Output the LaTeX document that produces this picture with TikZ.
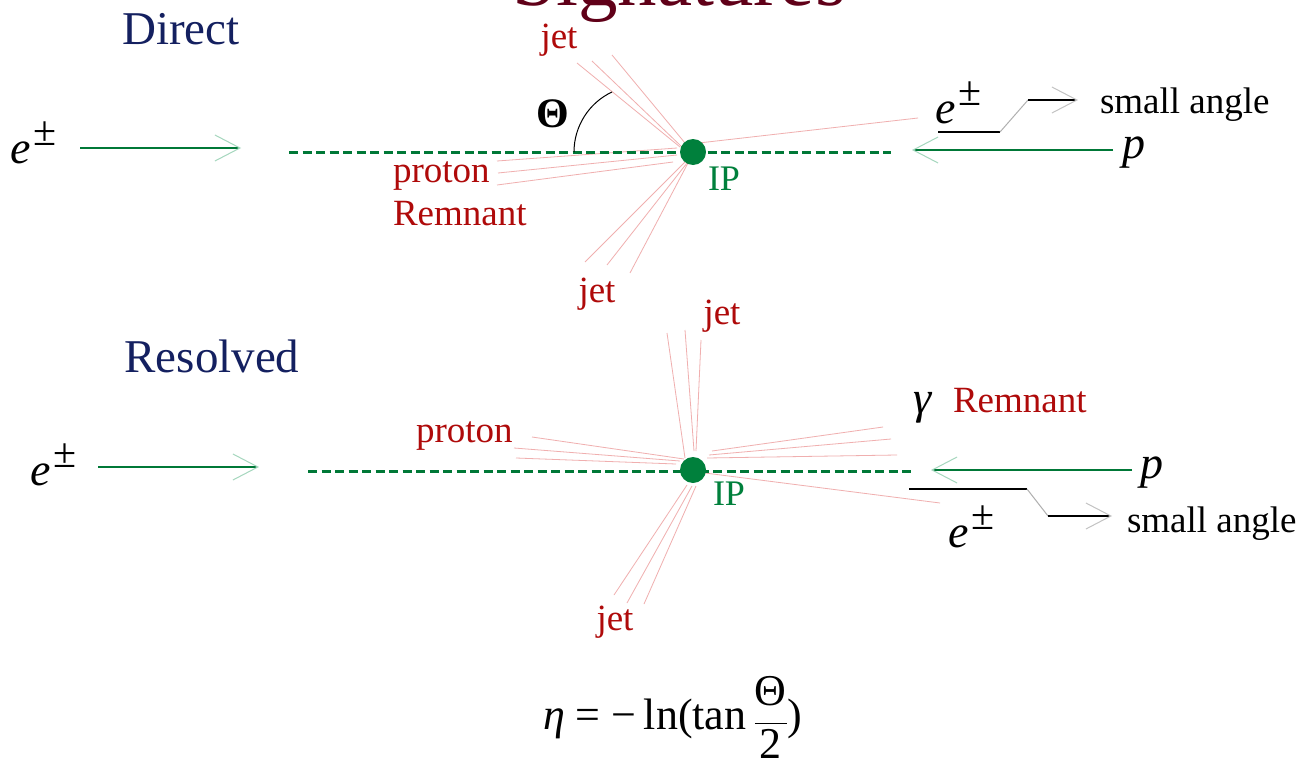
\documentclass[tikz,border=0pt]{standalone}
\usepackage{fontspec}
\setmainfont{Liberation Serif}
\usetikzlibrary{arrows.meta}
\definecolor{navy}{RGB}{20,32,96}
\definecolor{maroon}{RGB}{96,0,24}
\definecolor{lblred}{RGB}{175,10,10}
\definecolor{ipgreen}{RGB}{0,128,60}
\definecolor{beamgreen}{RGB}{0,120,55}
\definecolor{headgreen}{RGB}{165,215,190}
\definecolor{jetpink}{RGB}{240,175,175}
\definecolor{diaggray}{RGB}{175,175,175}
\definecolor{headgray}{RGB}{195,195,195}
\tikzset{
  txt/.style={inner sep=0pt, outer sep=0pt},
  panel/.style={txt, text=navy, font=\fontsize{47}{50}\selectfont},
  redlbl/.style={txt, text=lblred, font=\fontsize{37}{40}\selectfont},
  iplbl/.style={txt, text=ipgreen, font=\fontsize{36}{40}\selectfont},
  blk/.style={txt, text=black, font=\fontsize{37}{40}\selectfont},
  mathlbl/.style={txt, text=black, font=\fontsize{46}{50}\selectfont\itshape},
  beam/.style={beamgreen, line width=3pt, dash pattern=on 9pt off 4.5pt},
  inarrow/.style={beamgreen, line width=1.3pt, -{Straight Barb[length=25pt,width=26pt,color=headgreen,line width=1pt]}},
  jetline/.style={jetpink, line width=0.8pt},
  dot/.style={circle, fill=ipgreen, draw=none, minimum size=26pt, inner sep=0pt},
  sablack/.style={black, line width=1.3pt},
  sadiag/.style={diaggray, line width=1pt},
  saarrow/.style={black, line width=1.3pt, -{Straight Barb[length=25pt,width=26pt,color=headgray,line width=1pt]}},
}
\newcommand{\epm}{e\kern3pt\raisebox{18pt}{\upshape\fontsize{42}{42}\selectfont ±}}
\begin{document}
\begin{tikzpicture}[x=1pt,y=-1pt]
\clip (0,0) rectangle (1304,768);
\fill[white] (0,0) rectangle (1304,768);

% title (cut at top)
\node[txt, text=maroon, font=\fontsize{79}{80}\selectfont, anchor=base] (title) at (679,6) {Signatures};

% ================= Direct =================
\node[panel, anchor=base] (direct) at (181,45) {Direct};

% jets (pale pink)
\draw[jetline] (577,63) -- (680,147);
\draw[jetline] (592,61) -- (682,147);
\draw[jetline] (612,55) -- (685,143);
\draw[jetline] (690,144) -- (918,118);
\draw[jetline] (497,161) -- (677,148);
\draw[jetline] (498,173) -- (677,155);
\draw[jetline] (497,185) -- (673,162);
\draw[jetline] (585,262) -- (685,162);
\draw[jetline] (607,265) -- (687,163);
\draw[jetline] (630,273) -- (688,163);

% beam
\coordinate (b1s) at (289,152);
\coordinate (b1e) at (891,152);
\draw[beam] (b1s) -- (b1e);
\node[dot] (ip1) at (693,152) {};
\node[iplbl, anchor=base west] (ipl1) at (708,190) {IP};

% theta arc
\coordinate (th1) at (574,152);
\coordinate (th2) at (612,92);
\draw[black, line width=1pt] (th1) .. controls (574,126.4) and (588.8,102.8) .. (th2);
\node[txt, font=\fontsize{42}{44}\selectfont\bfseries, anchor=base] (theta) at (553,127) {Θ};

% labels
\node[redlbl, anchor=base] (jet1a) at (559,49) {jet};
\node[redlbl, anchor=base west] (prot1) at (393,182) {proton};
\node[redlbl, anchor=base west] (rem1) at (393,225) {Remnant};
\node[redlbl, anchor=base] (jet1b) at (597,302) {jet};

% incoming e
\node[mathlbl, anchor=base west] (e1) at (10,163) {\epm};
\coordinate (ea1) at (80,148);
\coordinate (eb1) at (241,148);
\draw[inarrow] (ea1) -- (eb1);

% incoming p
\node[mathlbl, anchor=base west] (p1) at (1122,158) {p};
\coordinate (pa1) at (1113,150);
\coordinate (pb1) at (912,150);
\draw[inarrow] (pa1) -- (pb1);

% scattered e, small angle
\node[mathlbl, anchor=base west] (e1r) at (935,123) {\epm};
\coordinate (s1a) at (938,132);
\coordinate (s1b) at (1000,132);
\coordinate (s1c) at (1028,100);
\coordinate (s1d) at (1078,100);
\draw[sablack] (s1a) -- (s1b);
\draw[sadiag] (s1b) -- (s1c);
\draw[saarrow] (s1c) -- (s1d);
\node[blk, anchor=base west] (sa1) at (1100,113) {small angle};

% ================= Resolved =================
\node[panel, anchor=base] (resolved) at (212,372) {Resolved};

\draw[jetline] (667,333) -- (685,458);
\draw[jetline] (685,330) -- (694,451);
\draw[jetline] (701,340) -- (696,451);
\draw[jetline] (532,437) -- (684,459);
\draw[jetline] (514,448) -- (680,461);
\draw[jetline] (516,458) -- (676,464);
\draw[jetline] (712,451) -- (883,427);
\draw[jetline] (709,455) -- (891,439);
\draw[jetline] (707,458) -- (897,455);
\draw[jetline] (614,595) -- (687,485);
\draw[jetline] (627,603) -- (692,486);
\draw[jetline] (644,604) -- (696,486);
\draw[jetline] (705,473) -- (940,503);

\coordinate (b2s) at (308,471);
\coordinate (b2e) at (911,471);
\draw[beam] (b2s) -- (b2e);
\node[dot] (ip2) at (693,470) {};
\node[iplbl, anchor=base west] (ipl2) at (713,505) {IP};

\node[redlbl, anchor=base] (jet2a) at (722,324) {jet};
\node[redlbl, anchor=base west] (prot2) at (416,442) {proton};
\node[mathlbl, anchor=base west] (gam) at (913,413) {γ};
\node[redlbl, anchor=base west] (rem2) at (953,412) {Remnant};
\node[redlbl, anchor=base] (jet2b) at (615,630) {jet};

\node[mathlbl, anchor=base west] (e2) at (30,485) {\epm};
\coordinate (ea2) at (98,467);
\coordinate (eb2) at (259,467);
\draw[inarrow] (ea2) -- (eb2);

\node[mathlbl, anchor=base west] (p2) at (1140,478) {p};
\coordinate (pa2) at (1132,470);
\coordinate (pb2) at (931,470);
\draw[inarrow] (pa2) -- (pb2);

\coordinate (s2a) at (909,489);
\coordinate (s2b) at (1027,489);
\coordinate (s2c) at (1048,516);
\coordinate (s2d) at (1112,516);
\draw[sablack] (s2a) -- (s2b);
\draw[sadiag] (s2b) -- (s2c);
\draw[saarrow] (s2c) -- (s2d);
\node[blk, anchor=base west] (sa2) at (1127,532) {small angle};
\node[mathlbl, anchor=base west] (e2r) at (948,547) {\epm};

% formula
\node[txt, font=\fontsize{44}{48}\selectfont, anchor=base west] (eta) at (543,729)
  {{\itshape η} = −\,ln(tan\,$\displaystyle\frac{\mbox{Θ}\rule[-16pt]{0pt}{16pt}}{\rule{0pt}{34pt}\mbox{2}}$)};
\end{tikzpicture}
\end{document}
